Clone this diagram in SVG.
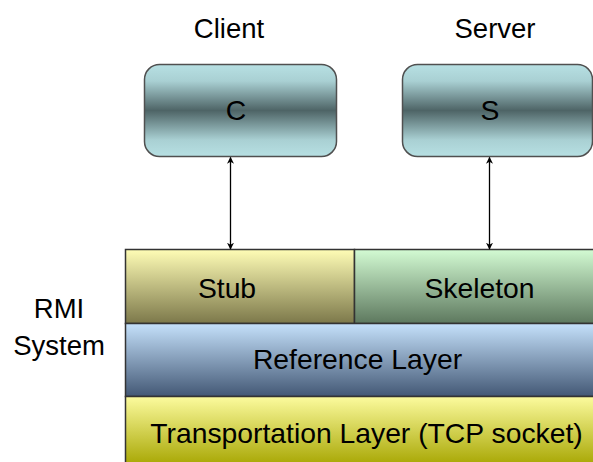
<svg xmlns="http://www.w3.org/2000/svg" width="593" height="462" viewBox="0 0 593 462">
  <style>
    text { font-family: "Liberation Sans", Arial, sans-serif; font-size: 28.3px; fill: #000; text-anchor: middle; dominant-baseline: central; }
    .head { font-size: 27.5px; }
    .proc { stroke: #505050; stroke-width: 1.5; fill: url(#gTeal); }
    .layer { stroke: #333; stroke-width: 1.5; }
    .link { stroke: #000; stroke-width: 1.3; fill: none; marker-start: url(#arrow); marker-end: url(#arrow); }
  </style>
  <defs>
    <linearGradient id="gTeal" x1="0" y1="0" x2="0" y2="1">
      <stop offset="0" stop-color="#b7e0e3"/>
      <stop offset="0.18" stop-color="#a9d0d3"/>
      <stop offset="0.5" stop-color="#4e6466"/>
      <stop offset="0.82" stop-color="#a9d0d3"/>
      <stop offset="1" stop-color="#b7e0e3"/>
    </linearGradient>
    <linearGradient id="gStub" x1="0" y1="0" x2="0" y2="1">
      <stop offset="0" stop-color="#fffdb6"/>
      <stop offset="1" stop-color="#7c784a"/>
    </linearGradient>
    <linearGradient id="gSkel" x1="0" y1="0" x2="0" y2="1">
      <stop offset="0" stop-color="#d3fbd3"/>
      <stop offset="1" stop-color="#5d785e"/>
    </linearGradient>
    <linearGradient id="gRef" x1="0" y1="0" x2="0" y2="1">
      <stop offset="0" stop-color="#c5e1fb"/>
      <stop offset="1" stop-color="#435875"/>
    </linearGradient>
    <linearGradient id="gTcp" x1="0" y1="0" x2="0" y2="1">
      <stop offset="0" stop-color="#fcfb9e"/>
      <stop offset="1" stop-color="#a6a500"/>
    </linearGradient>
    <marker id="arrow" viewBox="0 0 10 10" refX="9" refY="5" markerWidth="7" markerHeight="8" markerUnits="userSpaceOnUse" orient="auto-start-reverse">
      <path d="M0,0 L10,5 L0,10 L3,5 Z" fill="#000"/>
    </marker>
  </defs>

  <!-- headings -->
  <text class="head" x="229" y="28">Client</text>
  <text class="head" x="495" y="28">Server</text>
  <text class="head" x="59" y="308">RMI</text>
  <text class="head" x="59" y="345">System</text>

  <!-- process boxes -->
  <g id="client">
    <rect class="proc" x="144.5" y="64.5" width="192" height="92" rx="15"/>
    <text x="236" y="110">C</text>
  </g>
  <g id="server">
    <rect class="proc" x="402.5" y="64.5" width="190" height="92" rx="15"/>
    <text x="490" y="110">S</text>
  </g>

  <!-- layer stack -->
  <g id="stub">
    <rect class="layer" x="125.5" y="249.5" width="229" height="74" fill="url(#gStub)"/>
    <text x="227" y="288">Stub</text>
  </g>
  <g id="skeleton">
    <rect class="layer" x="354.5" y="249.5" width="245" height="74" fill="url(#gSkel)"/>
    <text x="479.5" y="288">Skeleton</text>
  </g>
  <g id="reference">
    <rect class="layer" x="125.5" y="323.5" width="474" height="73" fill="url(#gRef)"/>
    <text x="357.5" y="359">Reference Layer</text>
  </g>
  <g id="transport">
    <rect class="layer" x="125.5" y="396.5" width="474" height="70" fill="url(#gTcp)"/>
    <text x="366.5" y="433">Transportation Layer (TCP socket)</text>
  </g>

  <!-- connectors -->
  <g id="connectors">
    <line class="link" x1="230.5" y1="157.5" x2="230.5" y2="249"/>
    <line class="link" x1="489.5" y1="157.5" x2="489.5" y2="249"/>
  </g>
</svg>
